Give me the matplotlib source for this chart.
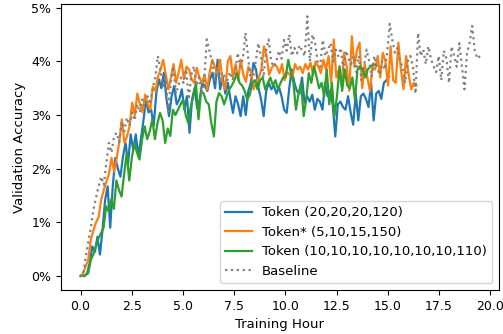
import numpy as np
import matplotlib
matplotlib.use("Agg")
import matplotlib.pyplot as plt
from matplotlib.ticker import PercentFormatter

# Validation accuracy (%) sampled every ~0.125 training hours
labels = [
    "Token (20,20,20,120)",
    "Token* (5,10,15,150)",
    "Token (10,10,10,10,10,10,10,110)",
    "Baseline",
]

blue_span = (0.2, 15.06)
blue_acc = [
    0.00, 0.05, 0.25, 0.55, 0.45, 0.73, 0.40,
    0.86, 1.41, 1.67, 0.90, 1.67, 2.20, 2.00, 1.85,
    2.23, 2.48, 2.10, 2.64, 2.35, 2.64, 2.23, 2.55,
    2.90, 3.29, 3.05, 3.10, 2.80, 3.40, 3.67, 3.50,
    3.79, 3.30, 2.98, 3.35, 3.54, 3.20, 3.29, 3.48,
    3.10, 3.35, 2.67, 3.29, 3.50, 3.13, 3.29, 3.60,
    3.54, 3.45, 3.67, 3.79, 3.50, 4.03, 3.48, 3.70,
    3.40, 3.60, 3.30, 3.04, 3.35, 3.20, 2.98, 3.35,
    3.00, 3.45, 3.60, 3.97, 3.85, 3.50, 3.29, 2.98,
    3.45, 3.60, 3.48, 3.55, 3.40, 3.52, 3.35, 3.10,
    3.04, 3.50, 3.85, 3.60, 3.45, 3.40, 3.70, 3.23,
    3.35, 3.25, 3.38, 3.10, 3.30, 3.25, 3.10, 3.60,
    3.35, 3.45, 3.20, 2.60, 3.20, 3.25, 3.15, 3.10,
    3.35, 3.05, 2.82, 3.40, 2.90, 3.35, 3.40, 3.30,
    3.15, 3.60, 2.90, 3.40, 3.45, 3.30, 3.60, 3.65, 3.72,
]

orange_span = (0.0, 16.4)
orange_acc = [
    0.00, 0.05, 0.18, 0.30, 0.68, 0.85, 1.00, 1.10,
    1.42, 1.60, 1.76, 1.90, 2.20, 1.95, 2.20, 2.50,
    2.92, 2.48, 2.60, 2.80, 3.23, 3.00, 3.40, 3.20,
    3.05, 3.38, 3.20, 3.10, 3.53, 3.45, 3.72, 3.85,
    4.03, 3.75, 3.48, 3.70, 3.95, 3.60, 3.80, 4.03,
    3.67, 3.90, 3.85, 3.67, 3.60, 3.88, 3.70, 3.60,
    3.75, 3.48, 3.80, 4.03, 3.90, 3.78, 4.03, 3.60,
    3.48, 4.00, 4.10, 3.70, 3.95, 3.65, 4.03, 3.75,
    3.62, 3.90, 3.80, 3.48, 3.60, 3.70, 3.85, 4.28,
    4.10, 3.75, 3.88, 3.95, 3.90, 3.78, 3.95, 3.65,
    3.80, 3.75, 3.70, 3.95, 3.85, 3.90, 3.78, 3.95,
    3.85, 3.98, 3.75, 4.00, 3.90, 3.78, 4.03, 3.85,
    4.10, 3.60, 4.41, 3.70, 3.85, 3.55, 4.16, 3.90,
    3.45, 4.47, 3.90, 4.22, 4.35, 3.50, 3.95, 3.70,
    3.45, 3.90, 3.85, 4.10, 3.70, 4.16, 4.00, 3.55,
    4.28, 3.65, 3.60, 4.35, 3.85, 3.48, 4.10, 3.75, 3.48, 3.60, 3.55,
]

green_span = (0.0, 14.4)
green_acc = [
    0.00, 0.00, 0.02, 0.05, 0.30, 0.40, 0.55, 0.70,
    0.80, 0.90, 1.30, 1.20, 1.43, 1.25, 1.78, 1.60,
    1.48, 1.90, 2.29, 1.78, 2.20, 2.48, 2.30, 2.17,
    2.54, 2.79, 2.55, 2.70, 2.92, 2.55, 2.85, 3.04,
    2.90, 2.48, 2.75, 2.61, 3.10, 3.00, 3.10, 3.20,
    3.29, 3.00, 2.85, 3.16, 3.35, 3.60, 2.92, 3.45,
    3.40, 3.25, 3.20, 2.85, 2.60, 3.25, 3.41, 3.35,
    3.20, 3.35, 3.48, 3.55, 3.65, 3.78, 3.60, 3.55,
    3.45, 3.29, 3.38, 3.60, 3.65, 3.48, 3.65, 3.70,
    3.48, 3.60, 3.70, 3.55, 3.65, 3.48, 3.60, 3.70,
    3.72, 4.03, 3.80, 3.60, 3.10, 3.40, 3.60, 2.98,
    3.29, 3.78, 3.60, 3.91, 3.72, 3.50, 3.60, 3.35,
    3.85, 3.20, 3.60, 2.98, 3.35, 3.91, 3.45, 3.85,
    3.55, 3.50, 3.70, 3.29, 3.85, 3.91, 3.85, 3.70,
    3.85, 3.90, 3.94, 3.94,
]

baseline_span = (0.0, 19.5)
baseline_acc = [
    0.00, 0.00, 0.35, 0.62, 0.90, 1.23, 1.45, 1.67,
    1.85, 1.70, 2.10, 2.48, 2.30, 2.60, 2.67, 2.50,
    2.88, 2.70, 2.95, 2.80, 3.05, 2.90, 3.20, 3.05,
    3.29, 3.10, 3.35, 3.20, 3.50, 3.70, 4.10, 3.85,
    3.50, 3.75, 3.07, 3.60, 3.91, 3.40, 3.55, 3.70,
    3.60, 3.85, 3.29, 3.75, 3.91, 3.55, 3.70, 3.40,
    3.65, 4.41, 4.20, 4.00, 3.65, 3.85, 3.65, 3.80,
    3.70, 3.65, 3.80, 3.65, 3.78, 4.16, 3.90, 4.05,
    4.53, 4.10, 3.65, 3.70, 4.00, 4.34, 4.10, 3.70,
    4.20, 4.41, 4.00, 3.90, 4.00, 4.20, 4.05, 4.40,
    4.20, 4.50, 4.10, 4.25, 4.15, 4.30, 4.20, 4.10,
    4.84, 4.00, 4.50, 4.35, 4.00, 3.90, 4.40, 4.10,
    4.20, 4.34, 4.00, 4.22, 4.10, 4.25, 3.85, 4.20,
    4.05, 3.95, 4.10, 3.80, 4.10, 3.65, 3.91, 4.22,
    4.00, 3.72, 4.10, 3.91, 3.75, 4.00, 3.85, 4.16,
    4.70, 4.40, 4.16, 4.25, 3.98, 3.91, 3.60, 4.00,
    4.10, 3.91, 3.40, 4.53, 4.10, 4.22, 3.95, 4.28,
    4.05, 3.91, 3.80, 4.10, 3.65, 4.20, 4.05, 3.60,
    4.28, 4.10, 3.90, 4.34, 3.91, 3.48, 4.16, 4.35,
    4.66, 4.20, 4.05, 4.10,
]

x_ticks = [0.0, 2.5, 5.0, 7.5, 10.0, 12.5, 15.0, 17.5, 20.0]
y_ticks = [0, 1, 2, 3, 4, 5]


def hours(span, values):
    return np.linspace(span[0], span[1], len(values))


fig = plt.figure(figsize=(5.03, 3.34), dpi=100)
ax = fig.add_axes([0.121, 0.132, 0.871, 0.856])

series = [
    (blue_span, blue_acc, dict(color="#1f77b4", lw=1.6)),
    (orange_span, orange_acc, dict(color="#ff7f0e", lw=1.6)),
    (green_span, green_acc, dict(color="#2ca02c", lw=1.6)),
    (baseline_span, baseline_acc, dict(color="gray", lw=1.6, ls=":")),
]
for (span, vals, style), lab in zip(series, labels):
    ax.plot(hours(span, vals), vals, label=lab, **style)

ax.set_xlim(-0.96, 20.43)
ax.set_ylim(-0.26, 5.07)
ax.set_xticks(x_ticks)
ax.set_yticks(y_ticks)
ax.yaxis.set_major_formatter(PercentFormatter(100, decimals=0))
ax.tick_params(labelsize=9)
ax.set_xlabel("Training Hour", fontsize=9.5)
ax.set_ylabel("Validation Accuracy", fontsize=9.5)
ax.legend(loc="lower right", fontsize=9.5)

fig.savefig("out.png", dpi=100)
